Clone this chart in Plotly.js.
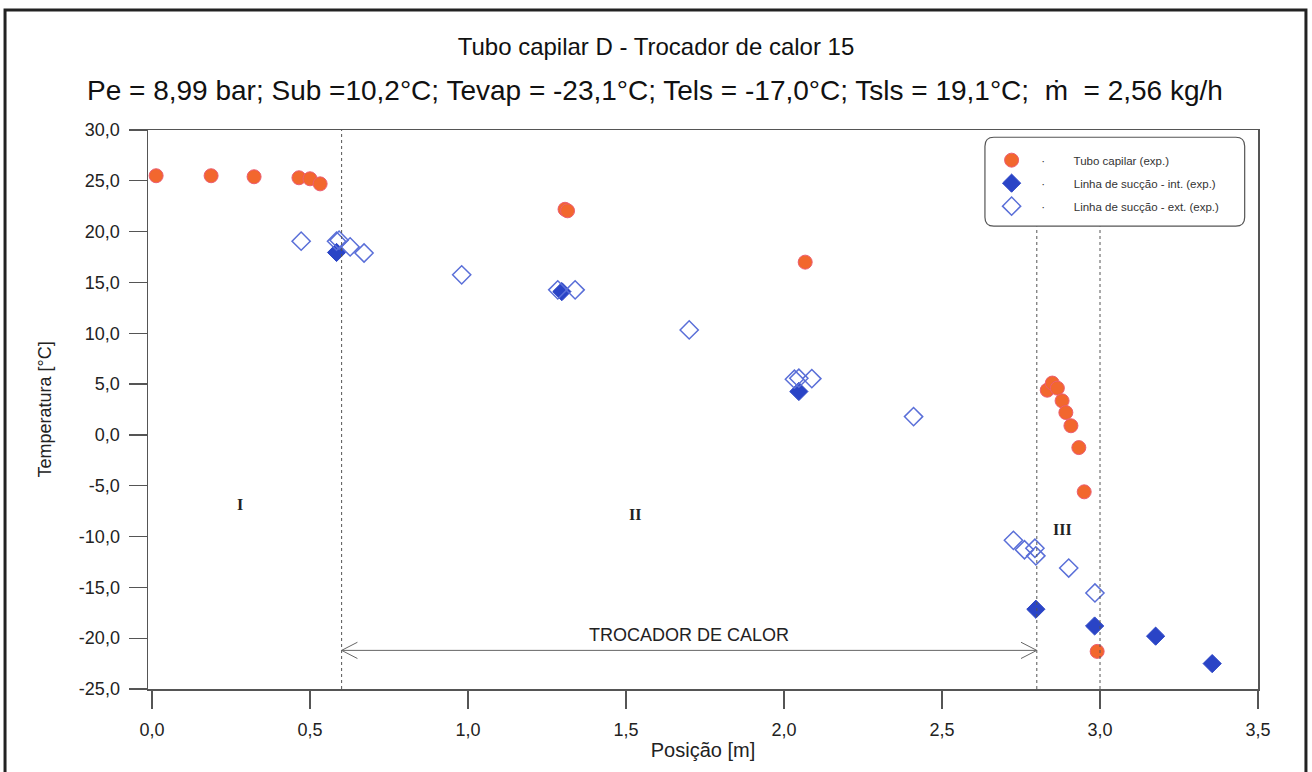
<!DOCTYPE html>
<html>
<head>
<meta charset="utf-8">
<script src="https://cdn.plot.ly/plotly-3.0.1.min.js"></script>
<style>html,body{margin:0;padding:0;background:#fff;}#chart{width:1312px;height:772px;}</style>
</head>
<body>
<div id="chart"></div>
<script>
// Tubo capilar (exp.)
const capX = [0.013, 0.187, 0.323, 0.465, 0.500, 0.532, 1.307, 1.315, 2.067, 2.833, 2.849, 2.865, 2.880, 2.892, 2.908, 2.933, 2.950, 2.991];
const capY = [25.5, 25.5, 25.4, 25.3, 25.2, 24.7, 22.2, 22.05, 17.0, 4.4, 5.1, 4.6, 3.35, 2.2, 0.9, -1.25, -5.6, -21.3];
// Linha de sucção - int. (exp.)
const intX = [0.584, 1.297, 2.047, 2.797, 2.983, 3.176, 3.355];
const intY = [17.95, 14.1, 4.27, -17.15, -18.8, -19.8, -22.5];
// Linha de sucção - ext. (exp.)
const extX = [0.472, 0.584, 0.592, 0.627, 0.671, 0.980, 1.284, 1.339, 1.700, 2.033, 2.047, 2.088, 2.410, 2.726, 2.761, 2.794, 2.797, 2.901, 2.984];
const extY = [19.06, 19.06, 19.16, 18.5, 17.9, 15.75, 14.27, 14.27, 10.33, 5.48, 5.58, 5.54, 1.8, -10.37, -11.3, -11.15, -11.9, -13.1, -15.55];

const seriesNames = ["Tubo capilar (exp.)", "Linha de sucção - int. (exp.)", "Linha de sucção - ext. (exp.)"];
const titleText = "Tubo capilar D - Trocador de calor 15";
const subtitleText = "Pe = 8,99 bar; Sub =10,2°C; Tevap = -23,1°C; Tels = -17,0°C; Tsls = 19,1°C;  ṁ  = 2,56 kg/h";
const xTitle = "Posição [m]";
const yTitle = "Temperatura [°C]";
// tick values and labels
const xTickVals = [0, 0.5, 1.0, 1.5, 2.0, 2.5, 3.0, 3.5];
const xTickText = ["0,0", "0,5", "1,0", "1,5", "2,0", "2,5", "3,0", "3,5"];
const yTickVals = [30, 25, 20, 15, 10, 5, 0, -5, -10, -15, -20, -25];
const yTickText = ["30,0", "25,0", "20,0", "15,0", "10,0", "5,0", "0,0", "-5,0", "-10,0", "-15,0", "-20,0", "-25,0"];
// region boundaries (m) and labels
const boundaries = [0.6, 2.8, 3.0];
const regionLabels = ["I", "II", "III"];
const regionX = [0.28, 1.53, 2.88];
const regionY = [-6.8, -7.8, -9.3];
const hxLabel = "TROCADOR DE CALOR";
const hxStart = 0.6, hxEnd = 2.8, hxY = -21.2;

const font = "Liberation Sans, Arial, sans-serif";
const legendPrefix = "   ·         ";

const traces = [
  {x: capX, y: capY, name: legendPrefix + seriesNames[0], legendgroup: "a", mode: "markers", type: "scatter",
   marker: {symbol: "circle", size: 14, color: "#f2672e", line: {color: "#ec5d72", width: 1}}},
  {x: intX, y: intY, name: legendPrefix + seriesNames[1], legendgroup: "b", mode: "markers", type: "scatter",
   marker: {symbol: "diamond", size: 14, color: "#2a44c6", line: {color: "#2a44c6", width: 1}}},
  {x: extX, y: extY, name: legendPrefix + seriesNames[2], legendgroup: "c", mode: "markers", type: "scatter",
   marker: {symbol: "diamond-open", size: 14, color: "#5a6fd8", line: {color: "#5a6fd8", width: 1.5}}}
];

const shapes = [];
// dotted boundaries
shapes.push({type: "line", xref: "x", yref: "y", x0: boundaries[0], x1: boundaries[0], y0: -25, y1: 30,
             line: {color: "#555", width: 1, dash: "dot"}});
shapes.push({type: "line", xref: "x", yref: "y", x0: boundaries[1], x1: boundaries[1], y0: -25, y1: 20.5,
             line: {color: "#555", width: 1, dash: "dot"}});
shapes.push({type: "line", xref: "x", yref: "y", x0: boundaries[2], x1: boundaries[2], y0: -25, y1: 20.5,
             line: {color: "#555", width: 1, dash: "dot"}});
// heat exchanger arrow
shapes.push({type: "line", xref: "x", yref: "y", x0: hxStart, x1: hxEnd, y0: hxY, y1: hxY,
             line: {color: "#666", width: 1}});
const ax = 0.05, ay = 0.8;
shapes.push({type: "path", xref: "x", yref: "y",
             path: `M ${hxEnd - ax},${hxY + ay} L ${hxEnd},${hxY} L ${hxEnd - ax},${hxY - ay}`,
             line: {color: "#666", width: 1}});
shapes.push({type: "path", xref: "x", yref: "y",
             path: `M ${hxStart + ax},${hxY + ay} L ${hxStart},${hxY} L ${hxStart + ax},${hxY - ay}`,
             line: {color: "#666", width: 1}});
// legend rounded box (paper coords)
(function(){
  const x0 = 0.754, x1 = 0.988, y0 = 0.828, y1 = 0.987, rx = 0.008, ry = 0.016;
  shapes.push({type: "path", xref: "paper", yref: "paper",
    path: `M ${x0+rx},${y1} L ${x1-rx},${y1} Q ${x1},${y1} ${x1},${y1-ry} L ${x1},${y0+ry} Q ${x1},${y0} ${x1-rx},${y0} L ${x0+rx},${y0} Q ${x0},${y0} ${x0},${y0+ry} L ${x0},${y1-ry} Q ${x0},${y1} ${x0+rx},${y1} Z`,
    line: {color: "#555", width: 1.2}, fillcolor: "rgba(255,255,255,1)", layer: "below"});
})();
// outer frame
shapes.push({type: "rect", xref: "paper", yref: "paper", x0: -0.1288, x1: 1.0432, y0: -0.16, y1: 1.2147,
             line: {color: "#222", width: 3}});

const annotations = [];
annotations.push({xref: "paper", yref: "paper", x: 0.4568, y: 1.0698, xanchor: "center", yanchor: "middle",
                  text: subtitleText, showarrow: false, font: {family: font, size: 28, color: "#111"}});
for (let i = 0; i < regionLabels.length; i++) {
  annotations.push({xref: "x", yref: "y", x: regionX[i], y: regionY[i], text: "<b>" + regionLabels[i] + "</b>", showarrow: false,
                    font: {family: "Liberation Serif, DejaVu Serif, serif", size: 16, color: "#222"}});
}
annotations.push({xref: "x", yref: "y", x: 1.70, y: -19.7, text: hxLabel, showarrow: false,
                  font: {family: font, size: 18, color: "#222"}});

const layout = {
  width: 1312, height: 772,
  margin: {l: 148, r: 54, t: 130, b: 83},
  paper_bgcolor: "#fff", plot_bgcolor: "#fff",
  font: {family: font, color: "#222"},
  title: {text: titleText, x: 0.5, xanchor: "center", y: 1 - 47/772, yanchor: "middle",
          font: {family: font, size: 24, color: "#111"}},
  xaxis: {range: [-0.0127, 3.5], tickmode: "array", tickvals: xTickVals, ticktext: xTickText,
          showgrid: false, zeroline: false,
          showline: true, mirror: true, linecolor: "#555", linewidth: 1.5,
          ticks: "outside", ticklen: 18, tickcolor: "#555", tickwidth: 1.2, ticklabelstandoff: 6,
          tickfont: {family: font, size: 18, color: "#222"},
          title: {text: xTitle, font: {family: font, size: 20, color: "#222"}, standoff: 4}},
  yaxis: {range: [-25, 30], tickmode: "array", tickvals: yTickVals, ticktext: yTickText,
          showgrid: false, zeroline: false,
          showline: true, mirror: true, linecolor: "#555", linewidth: 1.5,
          ticks: "outside", ticklen: 18, tickcolor: "#555", tickwidth: 1.2, ticklabelstandoff: 5,
          tickfont: {family: font, size: 18, color: "#222"},
          title: {text: yTitle, font: {family: font, size: 18, color: "#222"}, standoff: 22}},
  showlegend: true,
  legend: {x: 0.76, y: 0.972, xanchor: "left", yanchor: "top", bgcolor: "rgba(0,0,0,0)", borderwidth: 0,
           font: {family: font, size: 11.5, color: "#333"}, itemwidth: 30, tracegroupgap: 4},
  shapes: shapes,
  annotations: annotations
};

Plotly.newPlot("chart", traces, layout, {displayModeBar: false, staticPlot: true});
</script>
</body>
</html>
